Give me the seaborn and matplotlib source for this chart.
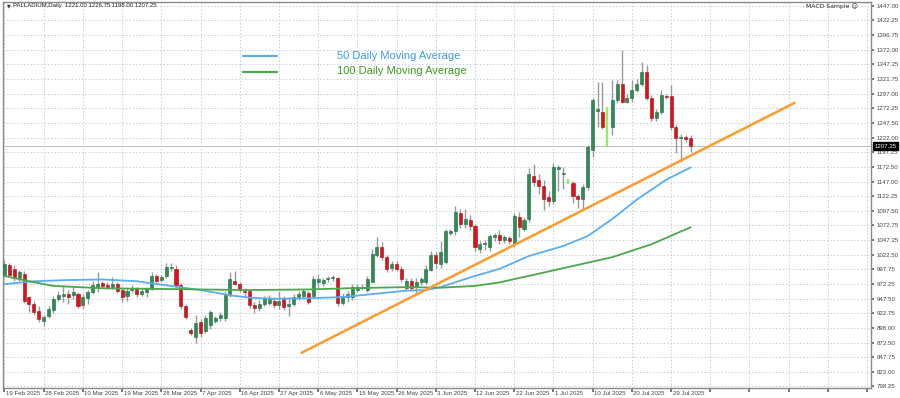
import numpy as np
import pandas as pd
import matplotlib
matplotlib.use("Agg")
import matplotlib.pyplot as plt
import matplotlib.transforms as mtransforms
from matplotlib.lines import Line2D
import seaborn as sns

# ---------------- data ----------------
open_ = [988, 1004, 998, 982, 990, 950, 938, 926, 910, 918,
         928, 947, 952, 955, 953, 955, 936, 948, 958, 968,
         974, 971, 968, 972, 962, 952, 962, 965, 956, 958,
         964, 986, 979, 986, 1000, 998, 970, 935, 894, 882,
         908, 892, 902, 910, 915, 914, 955, 978, 973, 961,
         960, 937, 931, 938, 940, 943, 936, 947, 934, 938,
         950, 951, 957, 952, 976, 974, 980, 982, 982, 940,
         950, 950, 962, 966, 962, 976, 1022, 1035, 1018, 999,
         1006, 998, 966, 978, 968, 976, 976, 997, 1022, 1006,
         1010, 1060, 1062, 1094, 1074, 1082, 1071, 1032, 1040, 1035,
         1052, 1056, 1048, 1050, 1040, 1086, 1066, 1083, 1156, 1150,
         1140, 1120, 1113, 1168, 1160, 1142, 1145, 1122, 1117, 1138,
         1201, 1268, 1265, 1206, 1240, 1286, 1314, 1283, 1290, 1303,
         1314, 1333, 1290, 1255, 1265, 1292, 1292, 1240, 1221, 1223,
         1221.00]
high = [1014, 1008, 1004, 996, 995, 952, 944, 934, 920, 934,
        952, 960, 970, 962, 968, 958, 955, 962, 978, 993,
        978, 976, 984, 975, 967, 965, 970, 968, 966, 968,
        992, 990, 988, 1008, 1008, 1004, 974, 938, 897, 920,
        912, 920, 928, 918, 924, 960, 993, 994, 976, 965,
        962, 942, 945, 952, 954, 950, 961, 952, 950, 955,
        960, 963, 960, 986, 990, 983, 986, 988, 984, 957,
        960, 972, 972, 972, 986, 1032, 1052, 1044, 1022, 1012,
        1011, 1003, 982, 983, 983, 984, 1004, 1028, 1026, 1045,
        1066, 1066, 1106, 1100, 1100, 1090, 1074, 1045, 1048, 1058,
        1060, 1065, 1056, 1054, 1094, 1095, 1086, 1170, 1176, 1160,
        1150, 1130, 1178, 1175, 1172, 1152, 1148, 1126, 1142, 1210,
        1290, 1316, 1316, 1274, 1320, 1320, 1371, 1296, 1320, 1322,
        1351, 1345, 1294, 1270, 1303, 1296, 1312, 1245, 1228, 1226,
        1226.75]
low = [984, 984, 978, 978, 940, 925, 920, 908, 901, 915,
       922, 944, 942, 938, 946, 932, 932, 938, 955, 958,
       965, 963, 963, 957, 942, 944, 958, 950, 951, 950,
       962, 974, 975, 983, 995, 966, 930, 912, 885, 872,
       882, 888, 896, 905, 910, 910, 950, 970, 958, 950,
       932, 923, 926, 934, 937, 932, 930, 928, 918, 935,
       945, 947, 938, 948, 966, 969, 975, 978, 935, 936,
       942, 945, 958, 962, 958, 975, 1018, 1014, 992, 995,
       994, 976, 962, 960, 957, 970, 972, 994, 1000, 1000,
       1006, 1055, 1055, 1068, 1068, 1065, 1028, 1025, 1030, 1028,
       1045, 1040, 1042, 1040, 1035, 1052, 1062, 1078, 1140, 1125,
       1098, 1105, 1108, 1130, 1135, 1142, 1110, 1102, 1098, 1132,
       1188, 1240, 1236, 1206, 1226, 1280, 1280, 1280, 1283, 1300,
       1310, 1286, 1250, 1250, 1262, 1287, 1235, 1196, 1180, 1214,
       1198.00]
close = [1006, 987, 982, 992, 944, 938, 925, 912, 916, 930,
         947, 954, 955, 950, 958, 935, 950, 958, 970, 972,
         969, 967, 972, 960, 950, 961, 965, 956, 961, 965,
         986, 978, 985, 1001, 1002, 970, 935, 916, 889, 906,
         888, 915, 924, 915, 920, 956, 980, 973, 962, 958,
         937, 931, 939, 948, 948, 936, 944, 933, 938, 950,
         955, 960, 942, 981, 981, 979, 982, 984, 940, 952,
         956, 967, 968, 967, 981, 1023, 1035, 1018, 998, 1006,
         998, 981, 978, 965, 976, 980, 998, 1022, 1008, 1026,
         1062, 1062, 1095, 1075, 1083, 1072, 1035, 1040, 1041, 1054,
         1056, 1048, 1052, 1046, 1088, 1070, 1082, 1159, 1146, 1140,
         1118, 1113, 1172, 1172, 1162, 1152, 1122, 1117, 1138, 1205,
         1286, 1270, 1240, 1274, 1286, 1314, 1283, 1290, 1303, 1314,
         1333, 1290, 1255, 1265, 1294, 1291, 1240, 1221, 1222, 1220,
         1207.25]
lime_bars = [115, 123]

ma50_bars = [0, 6, 13, 20, 27, 33, 40, 46, 50, 55, 62, 69, 75, 82, 86, 89,
             93, 96, 101, 107, 114, 119, 124, 129, 135, 140]
ma50_vals = [972, 977, 979, 980, 977, 970, 962, 953, 949, 947, 948, 950, 955,
             961, 962, 967, 978, 986, 998, 1020, 1037, 1054, 1083, 1116, 1150, 1171]
ma100_bars = [0, 5, 10, 20, 30, 40, 50, 62, 70, 82, 89, 96, 101, 108, 116,
              124, 132, 140]
ma100_vals = [986, 977, 969, 965, 964, 963, 962, 963, 965, 967, 966, 969, 975,
              988, 1003, 1018, 1040, 1069]

trend_bars = [60.6, 161.2]
trend_prices = [855, 1281]

date_labels = ["19 Feb 2025", "28 Feb 2025", "10 Mar 2025", "19 Mar 2025",
               "28 Mar 2025", "7 Apr 2025", "16 Apr 2025", "27 Apr 2025",
               "6 May 2025", "15 May 2025", "26 May 2025", "3 Jun 2025",
               "12 Jun 2025", "22 Jun 2025", "1 Jul 2025", "10 Jul 2025",
               "20 Jul 2025", "29 Jul 2025"]
price_ticks = [1447.00, 1422.25, 1396.75, 1372.00, 1347.25, 1321.75, 1297.00,
               1272.25, 1247.50, 1222.00, 1197.25, 1172.50, 1147.00, 1122.25,
               1097.50, 1072.75, 1047.25, 1022.50, 997.75, 972.25, 947.50,
               922.75, 898.00, 872.50, 847.75, 823.00, 798.25]
last_price = 1207.25
title_text = "PALLADIUM,Daily  1221.00 1226.75 1198.00 1207.25"
ea_text = "MACD Sample \u263A"
legend_labels = ["50 Daily Moving Average", "100 Daily Moving Average"]

# ---------------- style ----------------
sns.set_theme(style="white")
plt.rcParams['font.family'] = ['Liberation Sans', 'DejaVu Sans']

W, H = 900, 398
fig = plt.figure(figsize=(W / 100, H / 100), dpi=100, facecolor="white")
ax = fig.add_axes([3 / W, 1 - 388 / H, 868 / W, 386 / H])
ax.set_facecolor("white")

small = 4.4
bar_step = 8
x_max = 176.8
ax.set_xlim(-0.3, x_max)
ax.set_ylim(795, 1453)

# grid
grid_col = "#c3cfe2"
vgrid = list(range(0, int(x_max) + 1, bar_step))
for gx in vgrid:
    ax.axvline(gx, color=grid_col, lw=0.7, ls=(0, (1.5, 2)), zorder=0)
for gy in price_ticks:
    ax.axhline(gy, color=grid_col, lw=0.7, ls=(0, (1.5, 2)), zorder=0)

# bid line
ax.axhline(last_price, color="#b8c0cc", lw=0.7, zorder=1)

# candles
df = pd.DataFrame({"o": open_, "h": high, "l": low, "c": close})
df["x"] = np.arange(len(df))
normal = df[~df["x"].isin(lime_bars)]
ax.vlines(normal["x"], normal["l"], normal["h"], color="#9a9a9a", lw=1.0, zorder=2)
up = normal[normal["c"] >= normal["o"]]
dn = normal[normal["c"] < normal["o"]]
ax.bar(up["x"], np.maximum(up["c"] - up["o"], 1.5), bottom=up["o"], width=0.62,
       color="#2f8a55", edgecolor="#1f6b3e", lw=0.4, zorder=3)
ax.bar(dn["x"], np.maximum(dn["o"] - dn["c"], 1.5), bottom=dn["c"], width=0.62,
       color="#d9131b", edgecolor="#a80d12", lw=0.4, zorder=3)
lime = df[df["x"].isin(lime_bars)]
ax.vlines(lime["x"], lime["l"], lime["h"], color="#8ef25a", lw=1.6, zorder=3)

# moving averages & trendline
sns.lineplot(x=ma50_bars, y=ma50_vals, ax=ax, color="#5aaef0", lw=1.3, zorder=4)
sns.lineplot(x=ma100_bars, y=ma100_vals, ax=ax, color="#4ca64c", lw=1.3, zorder=4)
sns.lineplot(x=trend_bars, y=trend_prices, ax=ax, color="#ff9a2e", lw=1.8, zorder=5)

# axes / ticks
ax.yaxis.tick_right()
ax.set_yticks(price_ticks)
ax.set_yticklabels([f"{v:.2f}" for v in price_ticks], fontsize=small, color="#444444")
ax.tick_params(axis="y", length=2, pad=2, color="#666666", right=True, left=False)
ax.set_xticks(vgrid)
ax.set_xticklabels([])
ax.tick_params(axis="x", length=3, color="#666666", bottom=True)
trans_x = mtransforms.blended_transform_factory(ax.transData, ax.transAxes)
for i, lab in enumerate(date_labels):
    ax.text(i * bar_step + 0.3, -0.008, lab, transform=trans_x, ha="left", va="top",
            fontsize=small, color="#444444", clip_on=False)
ax.set_xlabel("")
ax.set_ylabel("")
for s in ax.spines.values():
    s.set_color("#8a8a8a")
    s.set_linewidth(1.0)

# price box
trans_y = mtransforms.blended_transform_factory(ax.transAxes, ax.transData)
ax.text(1.004, last_price, f"{last_price:.2f}", transform=trans_y, ha="left", va="center",
        fontsize=small, color="white", clip_on=False,
        bbox=dict(boxstyle="square,pad=0.2", fc="black", ec="black"))

# title texts
fig.text(7 / W, 1 - 6 / H, "\u25BC", fontsize=3.5, color="#333333", va="center",
         family=["DejaVu Sans"])
fig.text(13 / W, 1 - 6 / H, title_text, fontsize=4.3, color="#222222", va="center")
fig.text(858 / W, 1 - 6 / H, ea_text, fontsize=small, color="#222222", va="center",
         ha="right", family=["DejaVu Sans"])

# legend (custom placement)
leg_cols = ["#5aaef0", "#4ca64c"]
leg_text_cols = ["#3f9be8", "#3f9a1f"]
for i, (lab, lc, tc) in enumerate(zip(legend_labels, leg_cols, leg_text_cols)):
    yy = 1 - (56 + 15.5 * i) / H
    fig.add_artist(Line2D([243 / W, 277 / W], [yy, yy], color=lc, lw=1.6,
                          transform=fig.transFigure))
    fig.text(337 / W, yy, lab, fontsize=8, color=tc, va="center")

fig.savefig("out.png", dpi=100, facecolor="white")
